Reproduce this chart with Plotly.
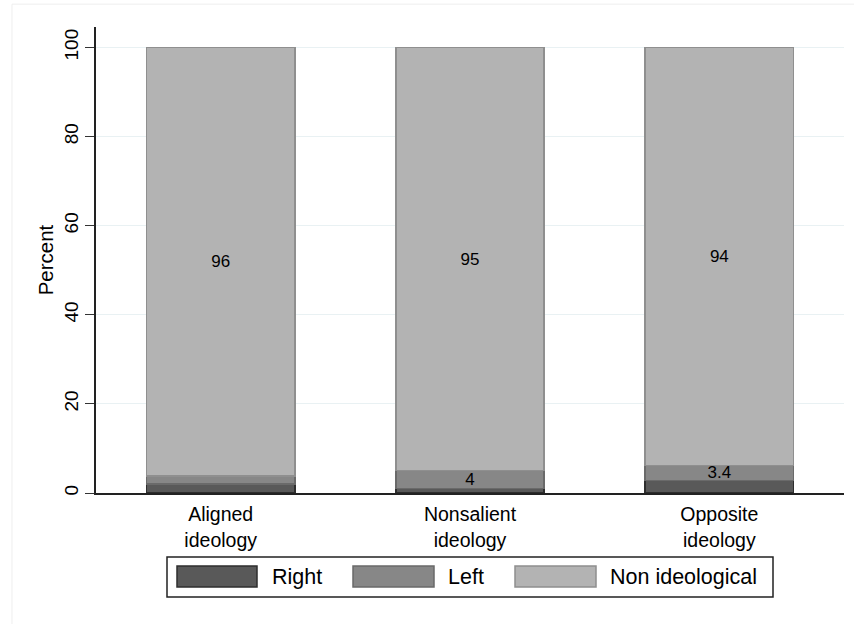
import plotly.graph_objects as go

categories = ["Aligned<br>ideology", "Nonsalient<br>ideology", "Opposite<br>ideology"]
series_names = ["Right", "Left", "Non ideological"]
right_vals = [2.0, 1.0, 2.8]
left_vals = [1.8, 4.0, 3.4]
nonideo_vals = [96.2, 95.0, 93.8]
right_labels = ["", "", ""]
left_labels = ["", "4", "3.4"]
nonideo_labels = ["96", "95", "94"]
y_ticks = [0, 20, 40, 60, 80, 100]

fills = ["#595959", "#878787", "#b3b3b3"]
edges = ["#2e2e2e", "#6a6a6a", "#8f8f8f"]
FONT = "Liberation Sans, Arial, Helvetica, sans-serif"

fig = go.Figure()
for name, vals, labels, fc, ec in zip(series_names,
                                      [right_vals, left_vals, nonideo_vals],
                                      [right_labels, left_labels, nonideo_labels],
                                      fills, edges):
    fig.add_trace(go.Bar(
        x=categories, y=vals, name=name, text=labels,
        textposition="inside", insidetextanchor="middle", textangle=0,
        textfont=dict(family=FONT, size=17, color="#000000"),
        marker=dict(color=fc, line=dict(color=ec, width=1.5)),
        width=0.595, showlegend=False, hoverinfo="x+y+name",
    ))

fig.update_layout(
    barmode="stack",
    width=854, height=624,
    margin=dict(l=96, r=10, t=27, b=131),
    paper_bgcolor="white", plot_bgcolor="white",
    font=dict(family=FONT, size=19, color="#000000"),
    uniformtext=dict(minsize=17, mode="show"),
    xaxis=dict(
        type="category", range=[-0.5, 2.5],
        showline=True, linecolor="#222222", linewidth=1.5,
        ticks="", showgrid=False, tickfont=dict(size=19.5), ticklabelstandoff=3,
    ),
    yaxis=dict(
        range=[0, 104.6], tickvals=y_ticks, ticktext=[str(v) for v in y_ticks],
        tickangle=-90, ticks="outside", ticklen=9, tickwidth=1.2, tickcolor="#333333",
        showline=True, linecolor="#222222", linewidth=1.5,
        showgrid=True, gridcolor="#e9f1f3", gridwidth=1, zeroline=False,
        tickfont=dict(size=19),
        title=dict(text="Percent", font=dict(size=20.5), standoff=1),
    ),
)

# outer faint frame
fig.add_shape(type="rect", xref="paper", yref="paper",
              x0=-0.1123, x1=1.02, y0=-0.30, y1=1.049,
              line=dict(color="#eeeeee", width=1), fillcolor="rgba(0,0,0,0)", layer="below")

# custom legend (Stata style)
def px_x(v):
    return (v - 96) / 748.0

def px_y(v):
    return (493 - v) / 466.0

fig.add_shape(type="rect", xref="paper", yref="paper",
              x0=px_x(167), x1=px_x(773), y0=px_y(597), y1=px_y(557),
              line=dict(color="#222222", width=1.5), fillcolor="white")
sw_x = [(177, 257), (353, 434), (515, 596)]
tx_x = [270, 446, 608]
for name, fc, ec, (a, b), t in zip(series_names, fills, edges, sw_x, tx_x):
    fig.add_shape(type="rect", xref="paper", yref="paper",
                  x0=px_x(a), x1=px_x(b), y0=px_y(587), y1=px_y(566),
                  line=dict(color=ec, width=1.5), fillcolor=fc)
    fig.add_annotation(xref="paper", yref="paper", x=px_x(t), y=px_y(577),
                       text=name, showarrow=False, xanchor="left", yanchor="middle",
                       font=dict(family=FONT, size=21.5, color="#000000"))

fig.write_html("out.html", config={"displayModeBar": False},
               post_script="document.body.style.margin='0';")
